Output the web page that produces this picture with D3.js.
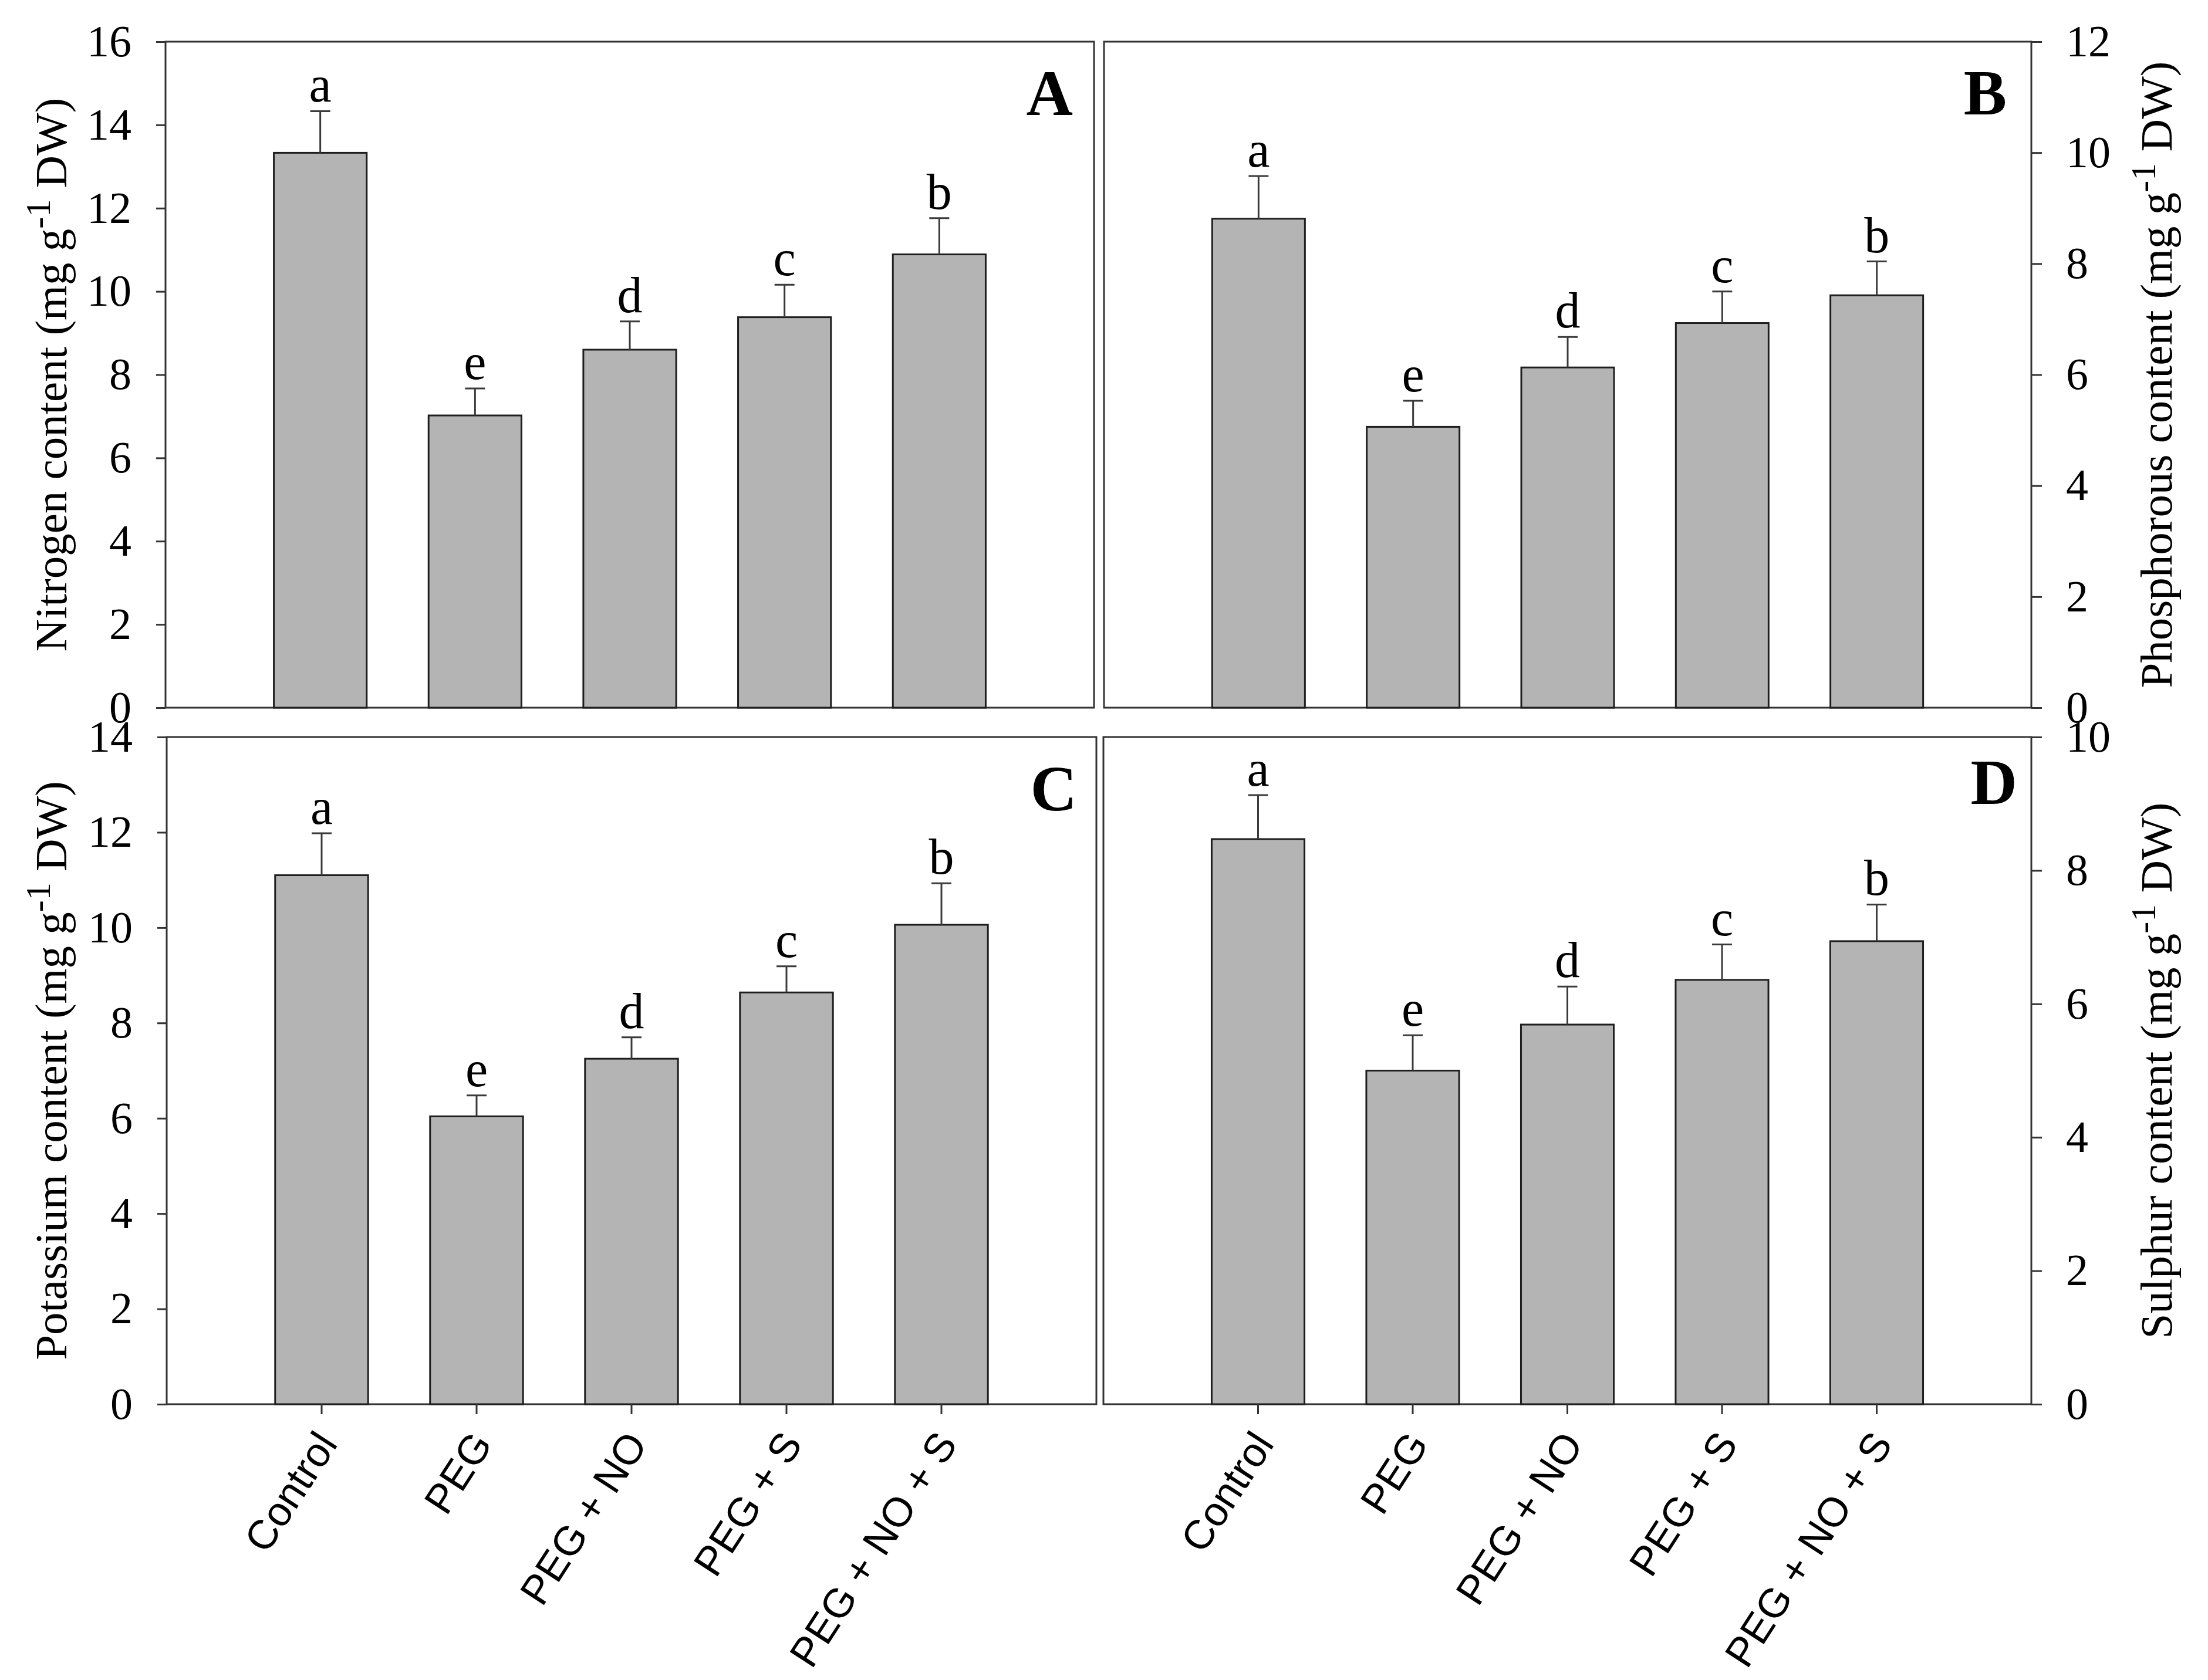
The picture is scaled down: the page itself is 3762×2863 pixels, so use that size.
<!DOCTYPE html>
<html>
<head>
<meta charset="utf-8">
<script src="https://cdn.jsdelivr.net/npm/d3@7"></script>
<style>
  body { margin: 0; background: #fff; }
</style>
</head>
<body>
<div id="chart"></div>
<script>
// treatments on the x axis
const categories = ["Control", "PEG", "PEG + NO", "PEG + S", "PEG + NO + S"];
const letters = ["a", "e", "d", "c", "b"];

// means and error bars (mg g-1 DW)
const nitrogen = [13.33, 7.02, 8.6, 9.38, 10.89];
const nitrogenErr = [1.0, 0.65, 0.68, 0.78, 0.87];
const phosphorous = [8.81, 5.06, 6.13, 6.93, 7.43];
const phosphorousErr = [0.77, 0.47, 0.55, 0.57, 0.61];
const potassium = [11.1, 6.04, 7.25, 8.64, 10.06];
const potassiumErr = [0.88, 0.44, 0.45, 0.55, 0.87];
const sulphur = [8.47, 5.0, 5.69, 6.36, 6.94];
const sulphurErr = [0.66, 0.53, 0.57, 0.53, 0.55];

// y axis maxima, ticks every 2
const yMax = [16, 12, 14, 10];

const width = 3762;
const height = 2863;
const serif = "'Liberation Serif', 'Times New Roman', serif";
const sans = "'Liberation Sans', Arial, sans-serif";

const panels = [
  { name: "A", title: "Nitrogen content", values: nitrogen, errors: nitrogenErr, max: yMax[0],
    side: "left", x0: 282, x1: 1864, y0: 71, y1: 1206, tagDx: 36, tagDy: 125, xLabels: false },
  { name: "B", title: "Phosphorous content", values: phosphorous, errors: phosphorousErr, max: yMax[1],
    side: "right", x0: 1881, x1: 3461, y0: 71, y1: 1206, tagDx: 42, tagDy: 124, xLabels: false },
  { name: "C", title: "Potassium content", values: potassium, errors: potassiumErr, max: yMax[2],
    side: "left", x0: 284, x1: 1868, y0: 1256, y1: 2393, tagDx: 33, tagDy: 125, xLabels: true },
  { name: "D", title: "Sulphur content", values: sulphur, errors: sulphurErr, max: yMax[3],
    side: "right", x0: 1880, x1: 3461, y0: 1256, y1: 2393, tagDx: 24, tagDy: 114, xLabels: true }
];

const svg = d3
  .select("#chart")
  .append("svg")
  .attr("width", width)
  .attr("height", height)
  .style("background", "#fff");

panels.forEach((p) => drawPanel(p));

function drawPanel(p) {
  const x = d3
    .scaleBand()
    .domain(categories)
    .range([p.x0, p.x1])
    .paddingInner(0.4)
    .paddingOuter(0.7);

  const y = d3.scaleLinear().domain([0, p.max]).range([p.y1, p.y0]);

  const g = svg.append("g");

  // frame
  g.append("rect")
    .attr("x", p.x0)
    .attr("y", p.y0)
    .attr("width", p.x1 - p.x0)
    .attr("height", p.y1 - p.y0)
    .attr("fill", "none")
    .attr("stroke", "#333")
    .attr("stroke-width", 3);

  // y axis
  const ticks = d3.range(0, p.max + 1, 2);
  const yAxis =
    p.side === "left"
      ? d3.axisLeft(y).tickValues(ticks).tickSize(16).tickPadding(42)
      : d3.axisRight(y).tickValues(ticks).tickSize(18).tickPadding(41);

  const ya = g
    .append("g")
    .attr("transform", `translate(${p.side === "left" ? p.x0 : p.x1},0)`)
    .call(yAxis);
  ya.select(".domain").remove();
  ya.selectAll(".tick line").attr("stroke", "#333").attr("stroke-width", 3);
  ya.selectAll(".tick text")
    .attr("fill", "#000")
    .style("font-family", serif)
    .style("font-size", "76px");

  // bars
  const idx = d3.range(categories.length);
  g.selectAll(".bar")
    .data(idx)
    .enter()
    .append("rect")
    .attr("class", "bar")
    .attr("x", (i) => x(categories[i]))
    .attr("width", x.bandwidth())
    .attr("y", (i) => y(p.values[i]))
    .attr("height", (i) => y(0) - y(p.values[i]))
    .attr("fill", "#b4b4b4")
    .attr("stroke", "#1e1e1e")
    .attr("stroke-width", 3);

  // error bars
  const cx = (i) => x(categories[i]) + x.bandwidth() / 2;
  g.selectAll(".err")
    .data(idx)
    .enter()
    .append("line")
    .attr("x1", cx)
    .attr("x2", cx)
    .attr("y1", (i) => y(p.values[i]))
    .attr("y2", (i) => y(p.values[i] + p.errors[i]))
    .attr("stroke", "#3a3a3a")
    .attr("stroke-width", 3);

  g.selectAll(".cap")
    .data(idx)
    .enter()
    .append("line")
    .attr("x1", (i) => cx(i) - 17)
    .attr("x2", (i) => cx(i) + 17)
    .attr("y1", (i) => y(p.values[i] + p.errors[i]))
    .attr("y2", (i) => y(p.values[i] + p.errors[i]))
    .attr("stroke", "#3a3a3a")
    .attr("stroke-width", 3);

  // significance letters
  g.selectAll(".letter")
    .data(idx)
    .enter()
    .append("text")
    .attr("x", cx)
    .attr("y", (i) => y(p.values[i] + p.errors[i]) - 16)
    .attr("text-anchor", "middle")
    .style("font-family", serif)
    .style("font-size", "86px")
    .text((i) => letters[i]);

  // panel tag
  g.append("text")
    .attr("x", p.x1 - p.tagDx)
    .attr("y", p.y0 + p.tagDy)
    .attr("text-anchor", "end")
    .style("font-family", serif)
    .style("font-size", "110px")
    .style("font-weight", "bold")
    .text(p.name);

  // y title
  const tx = p.side === "left" ? 113 : 3700;
  const title = g
    .append("text")
    .attr("transform", `translate(${tx},${(p.y0 + p.y1) / 2}) rotate(-90)`)
    .attr("text-anchor", "middle")
    .style("font-family", serif)
    .style("font-size", "77px");
  title.append("tspan").text(`${p.title} (mg g`);
  title.append("tspan").attr("dy", -28).style("font-size", "60px").text("-1");
  title.append("tspan").attr("dy", 28).text(" DW)");

  // category axis on the bottom row
  if (p.xLabels) {
    const xa = g
      .append("g")
      .attr("transform", `translate(0,${p.y1})`)
      .call(d3.axisBottom(x).tickSize(17));
    xa.select(".domain").remove();
    xa.selectAll(".tick line").attr("stroke", "#333").attr("stroke-width", 3);
    xa.selectAll(".tick text")
      .attr("x", null)
      .attr("y", null)
      .attr("dy", null)
      .attr("transform", "translate(29,68) rotate(-57)")
      .attr("text-anchor", "end")
      .attr("fill", "#000")
      .style("font-family", sans)
      .style("font-size", "70px");
  }
}
</script>
</body>
</html>
